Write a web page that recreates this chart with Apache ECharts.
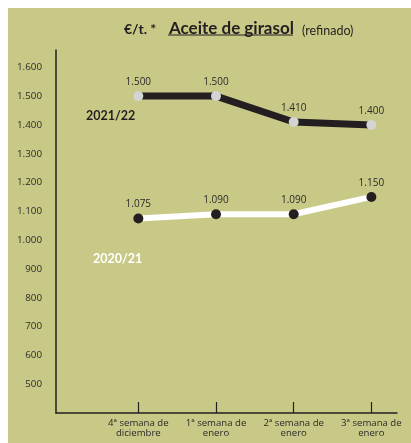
<!DOCTYPE html>
<html>
<head>
<meta charset="utf-8">
<script src="https://cdn.jsdelivr.net/npm/echarts@6/dist/echarts.min.js"></script>
<style>
html,body{margin:0;padding:0;background:#fff;}
#c{width:411px;height:443px;}
</style>
</head>
<body>
<div id="c"></div>
<script>
const categories = ['4ª semana de\ndiciembre', '1ª semana de\nenero', '2ª semana de\nenero', '3ª semana de\nenero'];
const seriesNames = ['2021/22', '2020/21'];
const values2122 = [1500, 1500, 1410, 1400];
const values2021 = [1075, 1090, 1090, 1150];
const yTickLabels = [500, 600, 700, 800, 900, 1000, 1100, 1200, 1300, 1400, 1500, 1600];

const FONT = 'Lato, "Open Sans", sans-serif';
const LFONT = '"Open Sans", Lato, sans-serif';
const BG = '#c9c987';
const DARK = '#231f20';
const TXT = '#2a2a2a';
const fmt = v => {
  const s = String(Math.round(v));
  return s.length > 3 ? s.slice(0, s.length - 3) + '.' + s.slice(-3) : s;
};
const toPairs = arr => arr.map((v, i) => [i, v]);

const chart = echarts.init(document.getElementById('c'), null, {renderer: 'canvas'});
chart.setOption({
  backgroundColor: '#ffffff',
  animation: false,
  textStyle: {fontFamily: FONT},
  graphic: [
    {type: 'rect', left: 8, top: 8, shape: {width: 403, height: 435}, style: {fill: BG}, z: -10, silent: true},
    {type: 'line', shape: {x1: 168, y1: 35, x2: 293, y2: 35}, style: {stroke: DARK, lineWidth: 1.2}, z: 10, silent: true}
  ],
  title: [
    {text: '€/t. *', left: 119, top: 17, textStyle: {fontFamily: FONT, fontSize: 14, fontWeight: 'bold', color: DARK}},
    {text: 'Aceite de girasol', left: 164, top: 15, textStyle: {fontFamily: FONT, fontSize: 17, fontWeight: 'bold', color: DARK}},
    {text: '(refinado)', left: 297, top: 19, textStyle: {fontFamily: FONT, fontSize: 12.5, fontWeight: 'normal', color: DARK}},
    {text: seriesNames[0], left: 81, top: 104, textStyle: {fontFamily: FONT, fontSize: 12.5, fontWeight: 'bold', color: DARK}},
    {text: seriesNames[1], left: 88, top: 247, textStyle: {fontFamily: FONT, fontSize: 12.5, fontWeight: 'bold', color: '#ffffff'}}
  ],
  grid: {left: 56, right: 14, top: 50, bottom: 30, containLabel: false},
  xAxis: {
    type: 'value',
    min: -1.06,
    max: 3.33,
    splitLine: {show: false},
    axisLine: {show: true, onZero: false, lineStyle: {color: DARK, width: 1.5}},
    axisTick: {show: true, inside: true, length: 11, customValues: [0, 1, 2, 3], lineStyle: {color: DARK, width: 1.2}},
    axisLabel: {
      customValues: [0, 1, 2, 3],
      formatter: v => categories[Math.round(v)] || '',
      fontFamily: LFONT, fontSize: 9.6, lineHeight: 10, color: TXT, margin: 5
    }
  },
  yAxis: {
    type: 'value',
    min: 400,
    max: 1660,
    interval: 100,
    splitLine: {show: false},
    axisTick: {show: false},
    axisLine: {show: true, onZero: false, lineStyle: {color: DARK, width: 1.5}},
    axisLabel: {
      formatter: v => yTickLabels.indexOf(v) >= 0 ? fmt(v) : '',
      fontFamily: LFONT, fontSize: 9.8, color: TXT, margin: 14
    }
  },
  series: [
    {
      name: seriesNames[0],
      type: 'line',
      data: toPairs(values2122),
      lineStyle: {color: DARK, width: 7},
      symbol: 'circle',
      symbolSize: 10,
      itemStyle: {color: '#d4d4d4'},
      label: {show: true, position: 'top', distance: 4, formatter: p => fmt(p.value[1]), fontFamily: LFONT, fontSize: 10, color: TXT},
      z: 3
    },
    {
      name: seriesNames[1],
      type: 'line',
      data: toPairs(values2021),
      lineStyle: {color: '#ffffff', width: 6},
      symbol: 'circle',
      symbolSize: 10,
      itemStyle: {color: DARK},
      label: {show: true, position: 'top', distance: 4, formatter: p => fmt(p.value[1]), fontFamily: LFONT, fontSize: 10, color: TXT},
      z: 3
    }
  ]
});
</script>
</body>
</html>
